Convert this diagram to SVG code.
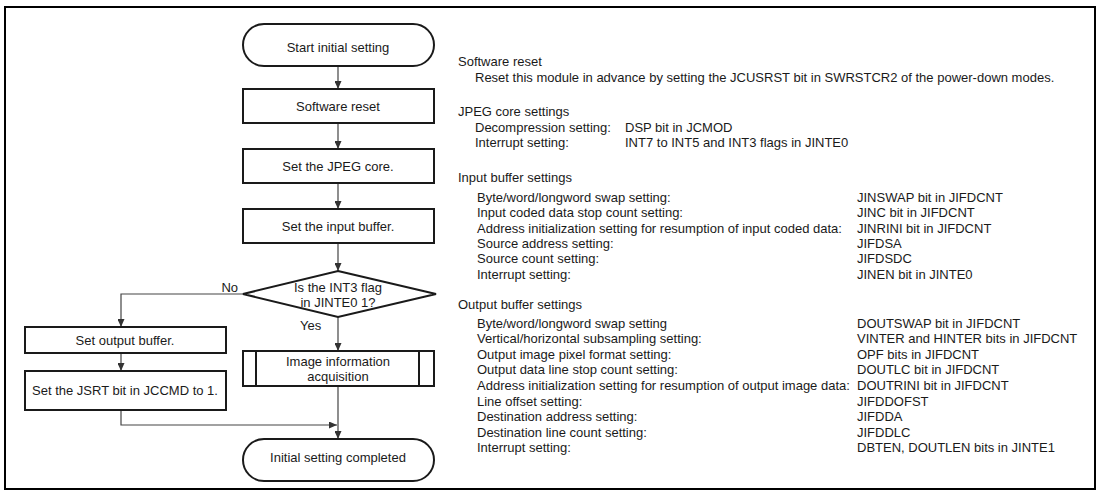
<svg xmlns="http://www.w3.org/2000/svg" width="1101" height="492" viewBox="0 0 1101 492">
<defs>
<style>
.t{font-family:"Liberation Sans",Arial,sans-serif;font-size:13px;fill:#1a1a1a}
.c{text-anchor:middle}
.box{fill:#fff;stroke:#1a1a1a;stroke-width:2}
.ln{fill:none;stroke:#444;stroke-width:1.2}
</style>
<marker id="ah" markerWidth="8" markerHeight="7" refX="8" refY="3.5" orient="auto" markerUnits="userSpaceOnUse">
<path d="M0,0 L8,3.5 L0,7 z" fill="#333"/>
</marker>
</defs>
<rect width="1101" height="492" fill="#fff"/>
<rect x="5" y="7" width="1090" height="482" fill="none" stroke="#000" stroke-width="2"/>

<g id="connectors">
<line class="ln" x1="338" y1="66" x2="338" y2="89" marker-end="url(#ah)"/>
<line class="ln" x1="338" y1="123" x2="338" y2="149" marker-end="url(#ah)"/>
<line class="ln" x1="338" y1="183" x2="338" y2="209" marker-end="url(#ah)"/>
<line class="ln" x1="338" y1="243" x2="338" y2="271" marker-end="url(#ah)"/>
<line class="ln" x1="338" y1="317" x2="338" y2="351" marker-end="url(#ah)"/>
<line class="ln" x1="338" y1="386" x2="338" y2="439" marker-end="url(#ah)"/>
<polyline class="ln" points="243,294 121,294 121,327" marker-end="url(#ah)"/>
<line class="ln" x1="121" y1="353" x2="121" y2="371" marker-end="url(#ah)"/>
<polyline class="ln" points="121,410 121,425 337,425" marker-end="url(#ah)"/>
<text class="t" x="238" y="292" text-anchor="end">No</text>
<text class="t" x="300" y="330">Yes</text>
</g>

<g id="start">
<rect class="box" x="243" y="24" width="191" height="42" rx="21"/>
<text class="t c" x="338" y="51.5">Start initial setting</text>
</g>
<g id="swreset">
<rect class="box" x="243" y="89" width="191" height="34"/>
<text class="t c" x="338" y="110.5">Software reset</text>
</g>
<g id="jpegcore">
<rect class="box" x="243" y="149" width="191" height="34"/>
<text class="t c" x="338" y="170.5">Set the JPEG core.</text>
</g>
<g id="inbuf">
<rect class="box" x="243" y="209" width="191" height="34"/>
<text class="t c" x="338" y="230.5">Set the input buffer.</text>
</g>
<g id="decision">
<polygon class="box" points="338,271 436,294 338,317 243,294"/>
<text class="t c" x="338" y="291.5">Is the INT3 flag</text>
<text class="t c" x="338" y="306.5">in JINTE0 1?</text>
</g>
<g id="imginfo">
<rect class="box" x="243" y="351" width="191" height="35"/>
<line class="box" x1="256" y1="351" x2="256" y2="386"/>
<line class="box" x1="419" y1="351" x2="419" y2="386"/>
<text class="t c" x="338" y="365.5">Image information</text>
<text class="t c" x="338" y="380.5">acquisition</text>
</g>
<g id="outbuf">
<rect class="box" x="25" y="327" width="201" height="26"/>
<text class="t c" x="125" y="344.5">Set output buffer.</text>
</g>
<g id="jsrt">
<rect class="box" x="25" y="371" width="201" height="39"/>
<text class="t c" x="125" y="395">Set the JSRT bit in JCCMD to 1.</text>
</g>
<g id="end">
<rect class="box" x="243" y="439" width="191" height="42" rx="21"/>
<text class="t c" x="338" y="461.5">Initial setting completed</text>
</g>

<g id="notes">
<text class="t" x="458" y="65.5">Software reset</text>
<text class="t" x="475" y="81.5">Reset this module in advance by setting the JCUSRST bit in SWRSTCR2 of the power-down modes.</text>
<text class="t" x="458" y="115.5">JPEG core settings</text>
<text class="t" x="475" y="131.5">Decompression setting:</text>
<text class="t" x="625" y="131.5">DSP bit in JCMOD</text>
<text class="t" x="475" y="146.5">Interrupt setting:</text>
<text class="t" x="625" y="146.5">INT7 to INT5 and INT3 flags in JINTE0</text>

<text class="t" x="458" y="181.5">Input buffer settings</text>
<text class="t" x="477" y="201.5">Byte/word/longword swap setting:</text>
<text class="t" x="857" y="201.5">JINSWAP bit in JIFDCNT</text>
<text class="t" x="477" y="217">Input coded data stop count setting:</text>
<text class="t" x="857" y="217">JINC bit in JIFDCNT</text>
<text class="t" x="477" y="232.5">Address initialization setting for resumption of input coded data:</text>
<text class="t" x="857" y="232.5">JINRINI bit in JIFDCNT</text>
<text class="t" x="477" y="248">Source address setting:</text>
<text class="t" x="857" y="248">JIFDSA</text>
<text class="t" x="477" y="263">Source count setting:</text>
<text class="t" x="857" y="263">JIFDSDC</text>
<text class="t" x="477" y="278.5">Interrupt setting:</text>
<text class="t" x="857" y="278.5">JINEN bit in JINTE0</text>

<text class="t" x="458" y="308.5">Output buffer settings</text>
<text class="t" x="477" y="327.5">Byte/word/longword swap setting</text>
<text class="t" x="857" y="327.5">DOUTSWAP bit in JIFDCNT</text>
<text class="t" x="477" y="343">Vertical/horizontal subsampling setting:</text>
<text class="t" x="857" y="343">VINTER and HINTER bits in JIFDCNT</text>
<text class="t" x="477" y="358.5">Output image pixel format setting:</text>
<text class="t" x="857" y="358.5">OPF bits in JIFDCNT</text>
<text class="t" x="477" y="374">Output data line stop count setting:</text>
<text class="t" x="857" y="374">DOUTLC bit in JIFDCNT</text>
<text class="t" x="477" y="390">Address initialization setting for resumption of output image data:</text>
<text class="t" x="857" y="390">DOUTRINI bit in JIFDCNT</text>
<text class="t" x="477" y="405.5">Line offset setting:</text>
<text class="t" x="857" y="405.5">JIFDDOFST</text>
<text class="t" x="477" y="421">Destination address setting:</text>
<text class="t" x="857" y="421">JIFDDA</text>
<text class="t" x="477" y="436.5">Destination line count setting:</text>
<text class="t" x="857" y="436.5">JIFDDLC</text>
<text class="t" x="477" y="452">Interrupt setting:</text>
<text class="t" x="857" y="452">DBTEN, DOUTLEN bits in JINTE1</text>
</g>
</svg>
